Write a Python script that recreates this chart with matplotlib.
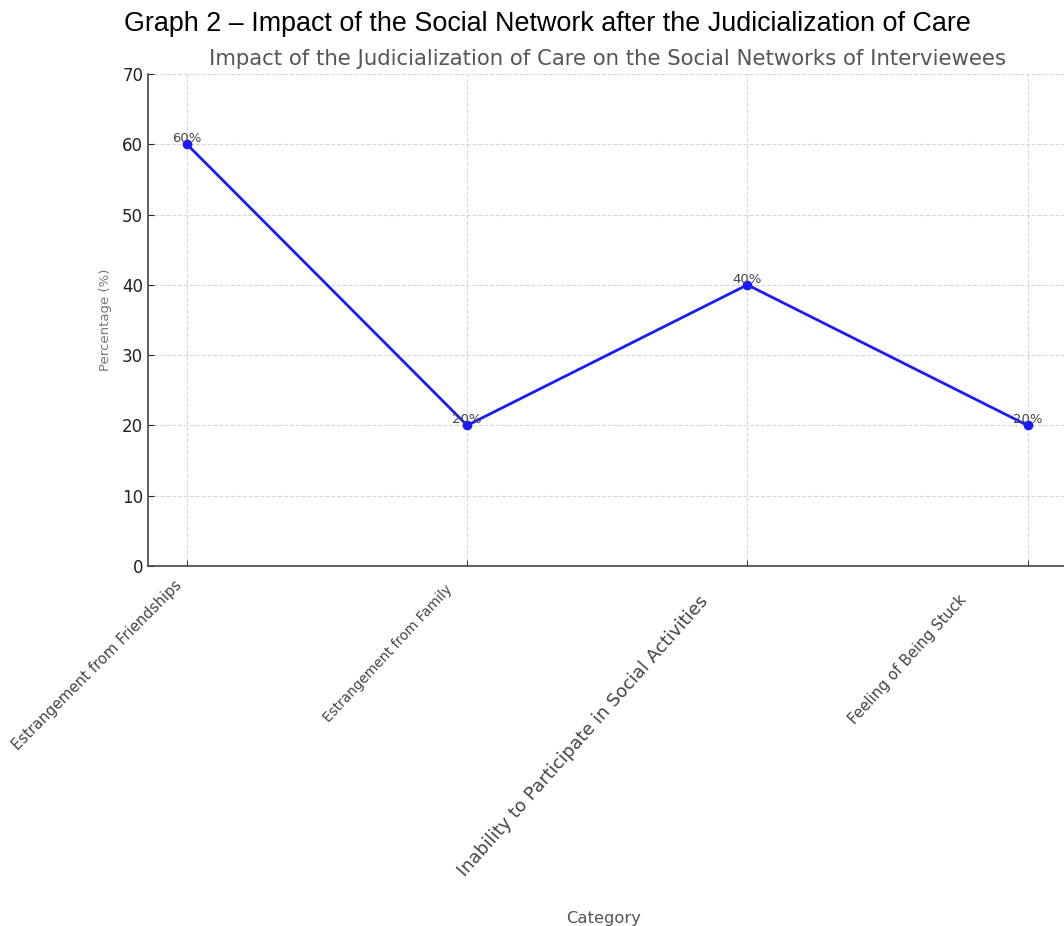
import numpy as np
import matplotlib
matplotlib.use('Agg')
import matplotlib.pyplot as plt
from matplotlib.transforms import offset_copy

categories = ['Estrangement from Friendships', 'Estrangement from Family',
              'Inability to Participate in Social Activities', 'Feeling of Being Stuck']
percentages = [60, 20, 40, 20]
y_ticks = [0, 10, 20, 30, 40, 50, 60, 70]

# each category label came out at its own size, angle and offset
label_sizes = [10.6, 9.8, 13.0, 10.8]
label_rot = [45, 47, 48.5, 48]
label_dx = [-2, -12, -35, -58]   # px
label_dy = [-12, -16, -26, -26]  # px

fig = plt.figure(figsize=(10.64, 9.26), dpi=100)
ax = fig.add_axes([0.1391, 0.3888, 0.8609, 0.5313])

x = np.arange(len(categories))
ax.plot(x, percentages, color='#1a1aff', lw=2, marker='o', markersize=6, zorder=3)
for xi, val in zip(x, percentages):
    ax.text(xi, val - 0.1, f'{val}%', ha='center', va='bottom', fontsize=9.5, color='#444444')

ax.set_xlim(-0.139, 3.13)
ax.set_ylim(0, 70)
ax.set_yticks(y_ticks)
ax.set_xticks(x)
ax.set_xticklabels([])
for xi, lab, fs, rot, dx, dy in zip(x, categories, label_sizes, label_rot, label_dx, label_dy):
    tr = offset_copy(ax.get_xaxis_transform(), fig=fig, x=dx, y=dy, units='dots')
    ax.text(xi, 0, lab, rotation=rot, ha='right', va='top', transform=tr,
            fontsize=fs, color='#444444')

ax.tick_params(axis='y', labelsize=12, colors='#222222', length=4, direction='in')
ax.tick_params(axis='x', length=4, direction='in', color='#444444')
ax.grid(True, linestyle='--', color='#d8d8d8', lw=0.8)
ax.set_axisbelow(True)
for side in ['top', 'right']:
    ax.spines[side].set_visible(False)
for side in ['left', 'bottom']:
    ax.spines[side].set_color('#444444')
    ax.spines[side].set_linewidth(1.2)

ax.set_ylabel('Percentage (%)', fontsize=9.5, color='#777777', labelpad=7)
fig.text(0.567, 0.0, 'Category', ha='center', va='bottom', fontsize=11.8, color='#555555')
fig.text(0.5705, 0.926, 'Impact of the Judicialization of Care on the Social Networks of Interviewees',
         ha='center', va='bottom', fontsize=15.3, color='#555555')
fig.text(0.1165, 0.96, 'Graph 2 \u2013 Impact of the Social Network after the Judicialization of Care',
         ha='left', va='bottom', fontsize=19.4, color='black', family='Liberation Sans')

fig.savefig('out.png', dpi=100, facecolor='white')
